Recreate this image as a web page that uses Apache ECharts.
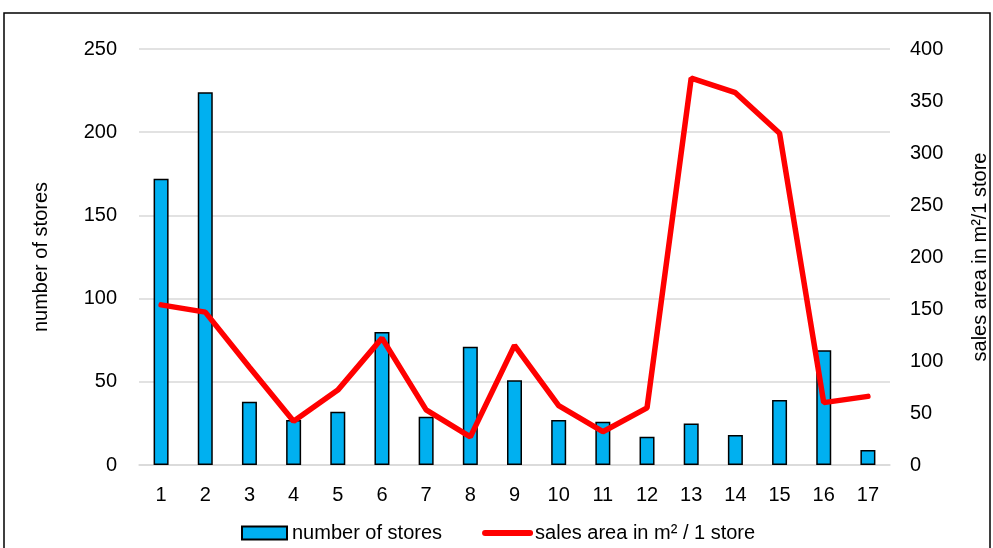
<!DOCTYPE html>
<html>
<head>
<meta charset="utf-8">
<script src="https://cdn.jsdelivr.net/npm/echarts@6/dist/echarts.min.js"></script>
<style>
  html, body { margin: 0; padding: 0; background: #fff; }
  #main { width: 993px; height: 548px; }
</style>
</head>
<body>
<div id="main"></div>
<script>
// categories 1..17
var categories = ["1", "2", "3", "4", "5", "6", "7", "8", "9", "10", "11", "12", "13", "14", "15", "16", "17"];
// number of stores (left axis)
var storeCounts = [172, 224, 38, 27, 32, 80, 29, 71, 51, 27, 26, 17, 25, 18, 39, 69, 9];
// sales area in m2 per store (right axis)
var salesArea = [154, 147, 94, 42, 72, 122, 53, 27, 115, 57, 32, 55, 372, 358, 319, 60, 66];

var FONT = "'Liberation Sans Narrow', 'Liberation Sans', Arial, sans-serif";

var myChart = echarts.init(document.getElementById("main"));
var option = {
  animation: false,
  textStyle: { fontFamily: FONT },
  graphic: [
    {
      type: "rect",
      shape: { x: 4, y: 13, width: 986, height: 560 },
      style: { fill: "none", stroke: "#000", lineWidth: 1.5 },
      silent: true
    }
  ],
  grid: { left: 139, right: 103, top: 49, bottom: 83, outerBoundsMode: "none" },
  legend: {
    left: 236,
    top: 518,
    itemWidth: 45,
    itemHeight: 13,
    itemGap: 40,
    textStyle: { fontFamily: FONT, fontSize: 20, color: "#000" },
    data: [
      { name: "number of stores", icon: "rect" },
      {
        name: "sales area in m² / 1 store",
        itemStyle: { opacity: 0 },
        lineStyle: { width: 6, color: "#FF0000", cap: "round" }
      }
    ]
  },
  xAxis: {
    type: "category",
    data: categories,
    axisLine: { lineStyle: { color: "#d9d9d9", width: 1.5 } },
    axisTick: { show: false },
    axisLabel: { color: "#000", fontSize: 20, fontFamily: FONT, margin: 20 }
  },
  yAxis: [
    {
      type: "value",
      min: 0,
      max: 250,
      interval: 50,
      name: "number of stores",
      nameLocation: "middle",
      nameGap: 88,
      nameTextStyle: { color: "#000", fontSize: 20, fontFamily: FONT },
      axisLabel: { color: "#000", fontSize: 20, fontFamily: FONT, margin: 22 },
      axisLine: { show: false },
      axisTick: { show: false },
      splitLine: { lineStyle: { color: "#d9d9d9", width: 1.5 } }
    },
    {
      type: "value",
      min: 0,
      max: 400,
      interval: 50,
      name: "sales area in m²/1 store",
      nameLocation: "middle",
      nameGap: 80,
      nameTextStyle: { color: "#000", fontSize: 20, fontFamily: FONT },
      axisLabel: { color: "#000", fontSize: 20, fontFamily: FONT, margin: 20 },
      axisLine: { show: false },
      axisTick: { show: false },
      splitLine: { show: false }
    }
  ],
  series: [
    {
      name: "number of stores",
      type: "bar",
      yAxisIndex: 0,
      barWidth: 15,
      data: storeCounts,
      itemStyle: { color: "#00B0F0", borderColor: "#000", borderWidth: 1.5 }
    },
    {
      name: "sales area in m² / 1 store",
      type: "line",
      yAxisIndex: 1,
      data: salesArea,
      symbol: "none",
      lineStyle: { color: "#FF0000", width: 5.5, cap: "round" },
      itemStyle: { color: "#FF0000" }
    }
  ]
};

option && myChart.setOption(option);
</script>
</body>
</html>
